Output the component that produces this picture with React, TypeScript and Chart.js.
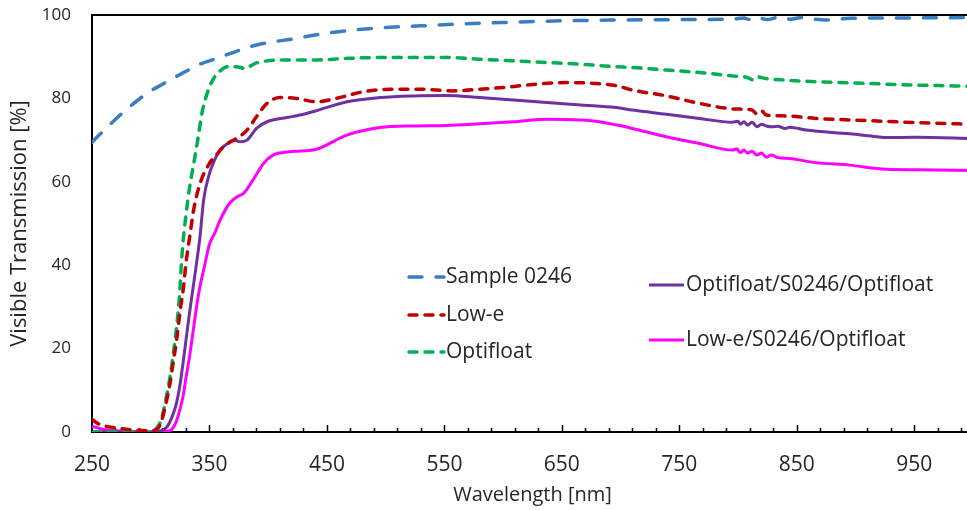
import React, { useEffect, useRef } from 'react';
import { Chart, registerables } from 'chart.js';

Chart.register(...registerables);

// ---------- data ----------
const sampleWl = [250, 260, 270, 280, 290, 300, 310, 320, 330, 340, 350, 360, 370, 380, 390, 400, 420, 440, 460, 480, 500, 530, 560, 600, 650, 700, 750, 795, 805, 810, 815, 825, 835, 845, 855, 865, 875, 895, 945, 1000];
const sampleT = [69.5, 72.3, 75, 77.5, 79.8, 81.8, 83.4, 85, 86.5, 88, 89, 90, 91, 92, 92.8, 93.4, 94.2, 95.2, 96, 96.6, 97, 97.4, 97.8, 98.2, 98.6, 98.8, 98.9, 99, 99.3, 98.9, 99.5, 98.9, 99.5, 99, 99.4, 99, 98.8, 99.2, 99.3, 99.4];

const lowEWl = [250, 255, 260, 270, 285, 300, 304, 306, 309, 313, 316, 319, 322, 325, 328, 330, 333, 337, 343, 350, 356, 362, 369, 373, 382, 390, 399, 410, 424, 441, 458, 481, 504, 529, 557, 580, 603, 632, 654, 677, 697, 710, 739, 767, 795, 806, 812, 816, 820, 824, 841, 866, 908, 951, 1000];
const lowET = [3, 2, 1.5, 1, 0.5, 0.3, 0.5, 0.8, 2.5, 6.9, 11, 16.5, 22, 29, 35, 40.5, 46.5, 54, 60.4, 64.4, 66.5, 68.4, 69.8, 70.4, 72.4, 75.6, 78.8, 80.2, 80, 79.2, 80, 81.6, 82.2, 82.2, 81.8, 82.2, 82.7, 83.5, 83.8, 83.6, 83, 82, 80.6, 78.8, 77.5, 77.4, 77.2, 76.3, 77, 76, 75.8, 75.2, 74.7, 74.2, 73.8];

const optiWl = [250, 270, 290, 299, 304, 309, 313, 316, 320, 324, 327, 330, 333, 337, 340, 344, 349, 354, 359, 366, 373, 380, 389, 399, 409, 438, 467, 495, 524, 552, 580, 609, 637, 666, 696, 710, 739, 767, 795, 808, 812, 816, 823, 839, 866, 908, 951, 1000];
const optiT = [0, 0, 0, 0, 0.6, 3, 8, 12.5, 20.5, 31, 44, 52, 58.5, 65, 70, 77, 82, 85, 86.6, 87.6, 87.6, 87.2, 88.4, 89, 89.2, 89.2, 89.6, 89.8, 89.8, 89.8, 89.4, 89, 88.6, 88.2, 87.6, 87.4, 86.8, 86.2, 85.4, 85, 84.5, 85.2, 84.8, 84.4, 84, 83.6, 83.2, 82.9];

const oSoWl = [250, 299, 309, 314, 318, 322, 325, 327.5, 330, 333, 336, 339, 342, 345, 350, 354, 359, 368, 372, 376, 382, 390, 399, 416, 427, 438, 467, 495, 524, 552, 580, 609, 637, 666, 696, 710, 739, 767, 795, 800, 802, 805, 808, 812, 816, 820, 824, 829, 834, 840, 844, 858, 895, 918, 926, 951, 1000];
const oSoT = [0, 0, 0.3, 1.3, 3.5, 7, 11.5, 16.5, 22, 28.5, 34.5, 40.5, 47, 55.6, 62, 65, 67.6, 69.6, 69.9, 69.6, 70, 72.8, 74.4, 75.4, 76, 76.8, 79.2, 80.2, 80.6, 80.7, 80.2, 79.6, 79, 78.4, 77.8, 77.2, 76.2, 75.2, 74.3, 74.5, 73.8, 74.4, 73.6, 74.3, 73.2, 73.8, 73.4, 73.2, 73.3, 72.8, 73.1, 72.4, 71.5, 70.8, 70.6, 70.7, 70.4];

const lSoWl = [250, 260, 270, 299, 309, 314, 317.5, 321, 324, 327.5, 330, 333, 336, 339, 342, 345, 350, 355, 359, 367, 374, 379, 387, 396, 404, 418, 427, 441, 467, 495, 524, 552, 580, 609, 637, 666, 682, 697, 710, 739, 767, 795, 799, 802, 805, 808, 812, 816, 820, 824, 828, 834, 844, 866, 895, 926, 953, 1000];
const lSoT = [1.4, 0.6, 0.3, 0, 0, 0.2, 0.5, 2, 4.5, 8.5, 13, 18, 24, 30, 35, 38.8, 45, 48, 50.8, 54.8, 56.5, 57.2, 60.4, 64.4, 66.4, 67.2, 67.4, 67.8, 71.2, 73, 73.4, 73.5, 73.9, 74.4, 75, 74.8, 74.4, 73.6, 72.8, 70.8, 69.2, 67.6, 67.9, 67, 67.6, 66.9, 67.3, 66.4, 66.9, 65.9, 66.4, 65.8, 65.6, 64.6, 64, 63, 62.9, 62.7];

const seriesNames = ['Sample 0246', 'Low-e', 'Optifloat', 'Optifloat/S0246/Optifloat', 'Low-e/S0246/Optifloat'];

const xTickValues = [250, 270, 290, 310, 330, 350, 370, 390, 410, 430, 450, 470, 490, 510, 530, 550, 570, 590, 610, 630, 650, 670, 690, 710, 730, 750, 770, 790, 810, 830, 850, 870, 890, 910, 930, 950, 970, 990];
const xMajorTicks = [250, 350, 450, 550, 650, 750, 850, 950];
const yTickValues = [0, 20, 40, 60, 80, 100];

// ---------- styling ----------
const FONT = "'Open Sans', 'Liberation Sans', sans-serif";
const TEXT = '#262626';

const legendSlots = [
  { x: 409, y: 277 },
  { x: 409, y: 315 },
  { x: 409, y: 352 },
  { x: 649, y: 285 },
  { x: 649, y: 340 },
];

const pts = (wl: number[], t: number[]) => wl.map((w, i) => ({ x: w, y: t[i] }));

const innerTicksPlugin = {
  id: 'innerTicks',
  beforeDatasetsDraw(chart: any) {
    const { ctx, chartArea, scales } = chart;
    const xs = scales.x;
    ctx.save();
    ctx.strokeStyle = '#000';
    ctx.lineWidth = 1.5;
    xTickValues.forEach((v) => {
      if (v === 250) return;
      const px = Math.round(xs.getPixelForValue(v)) + 0.5;
      const len = xMajorTicks.includes(v) ? 7 : 4;
      ctx.beginPath();
      ctx.moveTo(px, chartArea.bottom);
      ctx.lineTo(px, chartArea.bottom - len);
      ctx.stroke();
    });
    ctx.lineWidth = 2;
    ctx.beginPath();
    ctx.moveTo(chartArea.left - 1, chartArea.top);
    ctx.lineTo(chartArea.right, chartArea.top);
    ctx.stroke();
    ctx.restore();
  },
};

const floatingLegendPlugin = {
  id: 'floatingLegend',
  afterDraw(chart: any) {
    const { ctx } = chart;
    ctx.save();
    chart.data.datasets.forEach((ds: any, i: number) => {
      const slot = legendSlots[i];
      if (!slot) return;
      ctx.strokeStyle = ds.borderColor;
      ctx.lineWidth = ds.borderWidth;
      ctx.lineCap = ds.borderCapStyle || 'butt';
      ctx.setLineDash(ds.borderDash || []);
      ctx.beginPath();
      ctx.moveTo(slot.x, slot.y);
      ctx.lineTo(slot.x + 35, slot.y);
      ctx.stroke();
      ctx.setLineDash([]);
      ctx.fillStyle = TEXT;
      ctx.font = `21px ${FONT}`;
      ctx.textBaseline = 'middle';
      ctx.textAlign = 'left';
      ctx.fillText(ds.label, slot.x + 37, slot.y);
    });
    ctx.restore();
  },
};

export default function App() {
  const canvasRef = useRef<HTMLCanvasElement | null>(null);

  useEffect(() => {
    document.body.style.margin = '0';
    document.body.style.overflow = 'hidden';
    const canvas = canvasRef.current;
    if (!canvas) return;

    const common = { pointRadius: 0, fill: false, cubicInterpolationMode: 'monotone' as const };

    const chart = new Chart(canvas, {
      type: 'line',
      data: {
        datasets: [
          { ...common, label: seriesNames[0], data: pts(sampleWl, sampleT), borderColor: '#3B7DC2', borderWidth: 3.5, borderDash: [13, 14], borderCapStyle: 'round' },
          { ...common, label: seriesNames[1], data: pts(lowEWl, lowET), borderColor: '#C00000', borderWidth: 3.5, borderDash: [8, 8], borderCapStyle: 'round' },
          { ...common, label: seriesNames[2], data: pts(optiWl, optiT), borderColor: '#00B050', borderWidth: 3.5, borderDash: [8, 8], borderCapStyle: 'round' },
          { ...common, label: seriesNames[3], data: pts(oSoWl, oSoT), borderColor: '#7030A0', borderWidth: 3 },
          { ...common, label: seriesNames[4], data: pts(lSoWl, lSoT), borderColor: '#FF00FF', borderWidth: 3 },
        ],
      },
      options: {
        animation: false,
        responsive: true,
        maintainAspectRatio: false,
        layout: { padding: { left: 0, right: 2, top: 15, bottom: 0 } },
        plugins: { legend: { display: false }, tooltip: { enabled: false } },
        scales: {
          x: {
            type: 'linear',
            min: 250,
            max: 1000,
            afterBuildTicks: (scale: any) => {
              scale.ticks = xTickValues.map((v) => ({ value: v }));
            },
            afterFit: (scale: any) => {
              scale.height = 78;
              scale.paddingLeft = 0;
              scale.paddingRight = 0;
            },
            grid: { display: false, drawTicks: false },
            border: { display: true, color: '#000', width: 2 },
            ticks: {
              autoSkip: false,
              maxRotation: 0,
              padding: 20,
              color: TEXT,
              font: { family: FONT, size: 21 },
              callback: (v: any) => (xMajorTicks.includes(Number(v)) ? String(v) : ''),
            },
            title: {
              display: true,
              text: 'Wavelength [nm]',
              color: TEXT,
              font: { family: FONT, size: 20 },
              padding: { top: 0, bottom: 3 },
            },
          },
          y: {
            type: 'linear',
            min: 0,
            max: 100,
            afterBuildTicks: (scale: any) => {
              scale.ticks = yTickValues.map((v) => ({ value: v }));
            },
            afterFit: (scale: any) => {
              scale.width = 92;
              scale.paddingTop = 0;
              scale.paddingBottom = 0;
            },
            grid: { display: false, drawTicks: false },
            border: { display: true, color: '#000', width: 2 },
            ticks: {
              padding: 21,
              color: TEXT,
              font: { family: FONT, size: 17 },
            },
            title: {
              display: true,
              text: 'Visible Transmission [%]',
              color: TEXT,
              font: { family: FONT, size: 22 },
              padding: { top: 7, bottom: 0 },
            },
          },
        },
      },
      plugins: [innerTicksPlugin, floatingLegendPlugin],
    });

    return () => chart.destroy();
  }, []);

  return (
    <div style={{ width: 967, height: 510, overflow: 'hidden', position: 'relative' }}>
      <div style={{ width: 975, height: 510, position: 'absolute', left: 0, top: 0 }}>
        <canvas ref={canvasRef} />
      </div>
    </div>
  );
}
